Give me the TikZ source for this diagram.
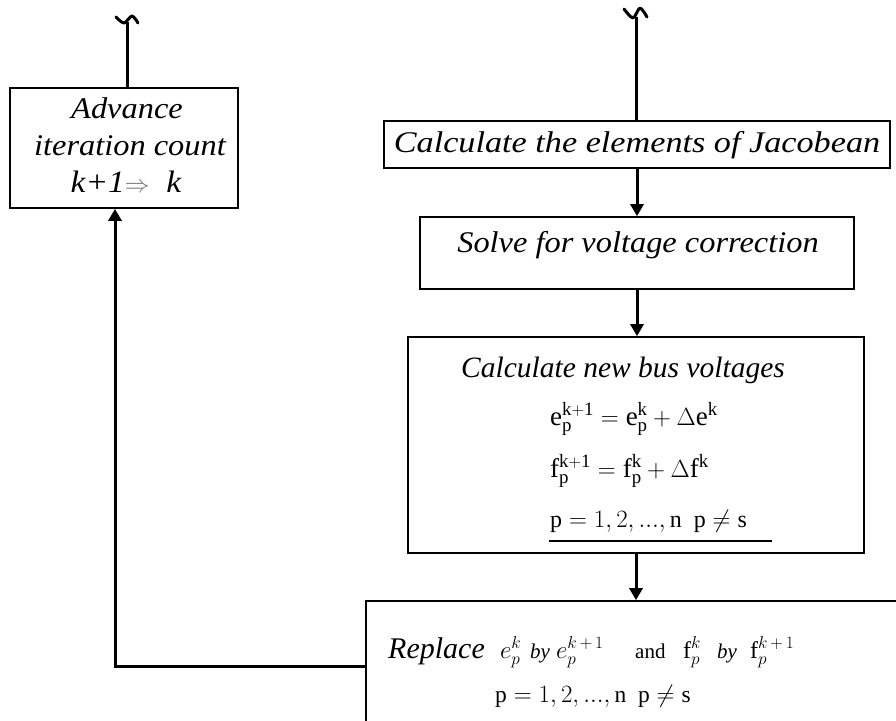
\documentclass[tikz,border=0pt]{standalone}
\usepackage{amsmath}
\usepackage{fontspec}
\setmainfont{Liberation Serif}
\usetikzlibrary{arrows.meta}
\begin{document}
\begin{tikzpicture}[x=1pt,y=-1pt,
  box/.style={draw,line width=1.7pt,rectangle,inner sep=0pt},
  conn/.style={line width=3pt},
  arr/.style={conn,-{Triangle[width=13pt,length=12pt]}},
  brk/.style={line width=3pt,line cap=round,line join=round},
  lbl/.style={inner sep=0pt,anchor=base,font=\itshape\fontsize{30}{36}\selectfont},
  eqn/.style={inner sep=0pt,anchor=base west,font=\fontsize{27}{30}\selectfont}]
\useasboundingbox (0,0) rectangle (896,720);
% boxes
\node[box,minimum width=228pt,minimum height=120pt] (adv) at (124,148) {};
\node[box,minimum width=506pt,minimum height=47pt] (jac) at (637,144.5) {};
\node[box,minimum width=434pt,minimum height=72pt] (sol) at (637,253) {};
\node[box,minimum width=456pt,minimum height=216pt] (bus) at (636,445) {};
\node[box,minimum width=540pt,minimum height=130pt] (rep) at (636,666) {};
% texts
\node[lbl,font=\itshape\fontsize{30}{36}\selectfont\addfontfeature{FakeStretch=1.08}] (tadv1) at (127,118) {Advance};
\node[lbl,font=\itshape\fontsize{30}{36}\selectfont\addfontfeature{FakeStretch=1.08}] (tadv2) at (130,155) {iteration count};
\node[lbl,font=\itshape\fontsize{31}{36}\selectfont\addfontfeature{FakeStretch=1.08}] (tadv3) at (126,192) {k+1\textcolor{black!55}{$\Rightarrow$}\ \ k};
\node[lbl,font=\itshape\fontsize{30}{36}\selectfont\addfontfeature{FakeStretch=1.14}] (tjac) at (637,152) {Calculate the elements of Jacobean};
\node[lbl,font=\itshape\fontsize{30}{36}\selectfont\addfontfeature{FakeStretch=1.08}] (tsol) at (638,252) {Solve for voltage correction};
\node[lbl,font=\itshape\fontsize{29.5}{36}\selectfont] (tbus) at (623,377) {Calculate new bus voltages};
\node[eqn] (eq1) at (550,425) {$\mathrm{e}_{\mathrm{p}}^{\mathrm{k+1}}=\mathrm{e}_{\mathrm{p}}^{\mathrm{k}}+\Delta\mathrm{e}^{\mathrm{k}}$};
\node[eqn] (eq2) at (550,477) {$\mathrm{f}_{\mathrm{p}}^{\mathrm{k+1}}=\mathrm{f}_{\mathrm{p}}^{\mathrm{k}}+\Delta\mathrm{f}^{\mathrm{k}}$};
\node[eqn,font=\fontsize{24}{28}\selectfont] (eq3) at (550,527) {$\mathrm{p}=1,2,...,\mathrm{n}\ \ \mathrm{p}\neq\mathrm{s}$};
\draw[line width=1.7pt] (549,541) -- (772,541);
\node[inner sep=0pt,anchor=base west,font=\fontsize{24}{26}\selectfont] (trep) at (388,658) {\rlap{\fontsize{30}{36}\selectfont\itshape Replace}\hspace{112pt}\rlap{$e_p^k$}\hspace{30pt}\rlap{\fontsize{21}{26}\selectfont\itshape by}\hspace{26pt}\rlap{$e_p^{k\,+\,1}$}\hspace{79pt}\rlap{\fontsize{21}{26}\selectfont and}\hspace{48pt}\rlap{$\mathrm{f}_p^k$}\hspace{34pt}\rlap{\fontsize{21}{26}\selectfont\itshape by}\hspace{33pt}\rlap{$\mathrm{f}_p^{k\,+\,1}$}\hspace{57pt}};
\node[eqn,font=\fontsize{23.5}{28}\selectfont] (trep2) at (495,702) {$\mathrm{p}=1,2,...,\mathrm{n}\ \ \mathrm{p}\neq\mathrm{s}$};
% break marks and top connectors
\coordinate (brkL) at (127,22);
\coordinate (brkR) at (636,17);
\draw[conn] (adv.north -| brkL) -- (brkL);
\draw[conn] (jac.north -| brkR) -- (brkR);
\draw[brk] plot[smooth] coordinates {([shift={(-11,-5)}]brkL) ([shift={(-3,1)}]brkL) ([shift={(5,-6)}]brkL) ([shift={(11,1)}]brkL)};
\draw[brk] plot[smooth] coordinates {([shift={(-12,-8)}]brkR) ([shift={(-3,1)}]brkR) ([shift={(4,-9)}]brkR) ([shift={(11,0)}]brkR)};
% arrows
\draw[arr] (jac.south) -- (sol.north);
\draw[arr] (sol.south) -- (sol.south |- bus.north);
\draw[arr] (bus.south) -- (bus.south |- rep.north);
\draw[arr] (rep.west) -| ([xshift=-9pt]adv.south);
\end{tikzpicture}
\end{document}
